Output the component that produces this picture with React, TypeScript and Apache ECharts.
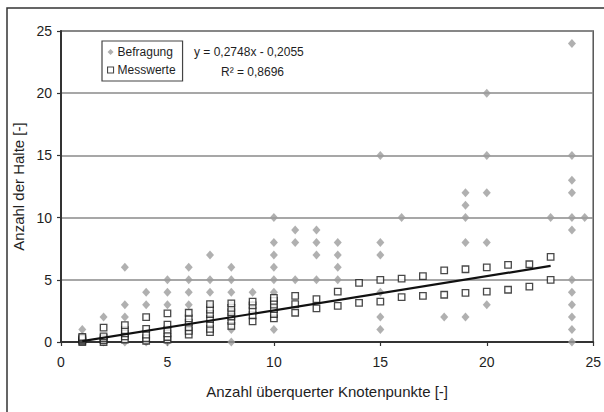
import React, { useEffect, useRef } from "react";
import * as echarts from "echarts";

// Survey answers ("Befragung"): [crossed junctions, number of stops]
const befragungPoints: [number, number][] = [
  [1, 1],
  [2, 0], [2, 2],
  [3, 0], [3, 2], [3, 3], [3, 6],
  [4, 0], [4, 3], [4, 4],
  [5, 0], [5, 3], [5, 4], [5, 5],
  [6, 3], [6, 4], [6, 5], [6, 6],
  [7, 3], [7, 4], [7, 5], [7, 7],
  [8, 0], [8, 1], [8, 3], [8, 4], [8, 5], [8, 6],
  [9, 3], [9, 4],
  [10, 1], [10, 4], [10, 5], [10, 6], [10, 7], [10, 8], [10, 10],
  [11, 5], [11, 8], [11, 9],
  [12, 5], [12, 7], [12, 8], [12, 9],
  [13, 5], [13, 6], [13, 7], [13, 8],
  [15, 1], [15, 2], [15, 4], [15, 7], [15, 8], [15, 15],
  [16, 10],
  [18, 2],
  [19, 2], [19, 8], [19, 10], [19, 11], [19, 12],
  [20, 3], [20, 8], [20, 12], [20, 15], [20, 20],
  [23, 10],
  [24, 0], [24, 1], [24, 2], [24, 3], [24, 4], [24, 5], [24, 9], [24, 10],
  [24, 12], [24, 13], [24, 15], [24, 24],
  [24.6, 10],
];

// Measured values ("Messwerte"): [crossed junctions, number of stops]
const messwertePoints: [number, number][] = [
  [1, 0], [1, 0.1], [1, 0.2], [1, 0.3], [1, 0.4],
  [2, 0], [2, 0.15], [2, 0.3], [2, 0.45], [2, 1.15],
  [3, 0.2], [3, 0.45], [3, 0.7], [3, 0.95], [3, 1.35],
  [4, 0.1], [4, 0.3], [4, 0.6], [4, 1.05], [4, 2.0],
  [5, 0.2], [5, 0.4], [5, 0.7], [5, 1.0], [5, 1.4], [5, 2.3],
  [6, 0.6], [6, 0.9], [6, 1.2], [6, 1.55], [6, 1.9], [6, 2.35],
  [7, 0.8], [7, 1.05], [7, 1.45], [7, 1.85], [7, 2.25], [7, 2.6], [7, 3.05],
  [8, 1.3], [8, 1.7], [8, 2.05], [8, 2.4], [8, 2.75], [8, 3.1],
  [9, 1.65], [9, 2.15], [9, 2.55], [9, 2.95], [9, 3.25],
  [10, 1.9], [10, 2.25], [10, 2.65], [10, 3.0], [10, 3.3], [10, 3.55],
  [11, 2.35], [11, 3.05], [11, 3.7],
  [12, 2.7], [12, 3.45],
  [13, 2.9], [13, 4.05],
  [14, 3.15], [14, 4.75],
  [15, 3.25], [15, 5.0],
  [16, 3.6], [16, 5.1],
  [17, 3.7], [17, 5.3],
  [18, 3.8], [18, 5.75],
  [19, 3.95], [19, 5.85],
  [20, 4.05], [20, 6.0],
  [21, 4.2], [21, 6.2],
  [22, 4.45], [22, 6.25],
  [23, 5.0], [23, 6.85],
];

// Linear regression through the measured values
const trendSlope = 0.2748;
const trendIntercept = -0.2055;
const trendRange: [number, number] = [1, 23];
const trendLabel = "y = 0,2748x - 0,2055";
const r2Label = "R\u00B2 = 0,8696";

const axisTicks = { min: 0, max: 25, interval: 5 };
const xTitle = "Anzahl überquerter Knotenpunkte [-]";
const yTitle = "Anzahl der Halte [-]";

const FONT = "'Liberation Sans', Arial, Helvetica, sans-serif";
const TEXT = "#1e1e1e";

export default function App() {
  const ref = useRef<HTMLDivElement>(null);

  useEffect(() => {
    if (!ref.current) return;
    const chart = echarts.init(ref.current, undefined, { renderer: "svg" });
    const trendData = trendRange.map((x) => [x, trendSlope * x + trendIntercept]);

    chart.setOption({
      animation: false,
      backgroundColor: "#ffffff",
      textStyle: { fontFamily: FONT, color: TEXT },
      grid: {
        left: 61,
        right: 6,
        top: 31,
        bottom: 70,
        show: true,
        borderColor: "#555",
        borderWidth: 1.5,
      },
      legend: {
        orient: "vertical",
        left: 102,
        top: 41,
        padding: [5, 7, 5, 5],
        itemGap: 6,
        itemWidth: 6,
        itemHeight: 6,
        borderColor: "#444",
        borderWidth: 1.2,
        textStyle: { fontFamily: FONT, fontSize: 12, color: TEXT, padding: [0, 0, 0, -1] },
        data: [
          { name: "Befragung", icon: "diamond", itemStyle: { color: "#9c9c9c" } },
          {
            name: "Messwerte",
            icon: "rect",
            itemStyle: { color: "#ffffff", borderColor: "#1a1a1a", borderWidth: 1.1 },
          },
        ],
      },
      xAxis: {
        type: "value",
        ...axisTicks,
        name: xTitle,
        nameLocation: "middle",
        nameGap: 42,
        nameTextStyle: { fontFamily: FONT, fontSize: 15, color: TEXT },
        axisLine: { show: true, lineStyle: { color: "#333", width: 2 } },
        axisTick: { show: true, length: 4, lineStyle: { color: "#333", width: 1.2 } },
        axisLabel: { fontFamily: FONT, fontSize: 14, color: TEXT, margin: 13 },
        splitLine: { show: false },
      },
      yAxis: {
        type: "value",
        ...axisTicks,
        name: yTitle,
        nameLocation: "middle",
        nameGap: 31,
        nameTextStyle: { fontFamily: FONT, fontSize: 15, color: TEXT },
        axisLine: { show: true, lineStyle: { color: "#333", width: 2 } },
        axisTick: { show: true, length: 4, lineStyle: { color: "#333", width: 1.2 } },
        axisLabel: { fontFamily: FONT, fontSize: 14, color: TEXT, margin: 9 },
        splitLine: { show: true, lineStyle: { color: "#8a8a8a", width: 1.5 } },
      },
      series: [
        {
          name: "Befragung",
          type: "scatter",
          symbol: "diamond",
          symbolSize: [8, 9],
          itemStyle: { color: "#9c9c9c" },
          data: befragungPoints,
          z: 2,
        },
        {
          name: "Messwerte",
          type: "scatter",
          symbol: "rect",
          symbolSize: 6.5,
          itemStyle: { color: "#ffffff", borderColor: "#1a1a1a", borderWidth: 1.3 },
          data: messwertePoints,
          z: 3,
        },
        {
          name: "Trend",
          type: "line",
          data: trendData,
          showSymbol: false,
          symbol: "none",
          lineStyle: { color: "#111", width: 2.2 },
          z: 4,
          silent: true,
        },
      ],
      graphic: [
        {
          type: "rect",
          shape: { x: 7, y: 8, width: 700, height: 500 },
          style: { fill: "none", stroke: "#333", lineWidth: 1.5 },
          silent: true,
        },
        {
          type: "text",
          x: 194,
          y: 46,
          style: { text: trendLabel, font: `12px ${FONT}`, fill: TEXT },
        },
        {
          type: "text",
          x: 221,
          y: 66,
          style: { text: r2Label, font: `12px ${FONT}`, fill: TEXT },
        },
      ],
    });

    return () => chart.dispose();
  }, []);

  return (
    <div
      ref={ref}
      style={{ position: "fixed", left: 0, top: 0, width: 604, height: 412, background: "#fff" }}
    />
  );
}
